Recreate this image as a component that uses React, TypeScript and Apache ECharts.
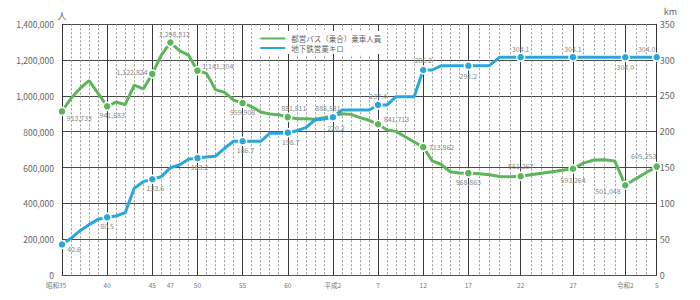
import React, { useEffect, useRef } from 'react';
import * as echarts from 'echarts';

// ---------- data ----------
const years = Array.from({ length: 64 }, (_, i) => 1960 + i); // 昭和35 (1960) … 令和5 (2023)

// 都営バス（乗合）乗車人員 (人/日)
const busRiders = [
  913733, 987000, 1042000, 1085000, 1014000, 941683, 966000, 951000, 1061000, 1039000,
  1122824, 1228000, 1298312, 1253000, 1228000, 1141304, 1126000, 1035000, 1020000, 977000,
  959908, 940000, 910000, 899000, 895000, 881811, 873000, 873000, 870000, 878000,
  888581, 900000, 897000, 879000, 864000, 841713, 810000, 802000, 772000, 743000,
  713862, 637000, 617000, 576000, 570000, 568863, 565000, 560000, 550000, 548000,
  551267, 560000, 568000, 577000, 585000, 593264, 625000, 642000, 643000, 636000,
  501048, 537000, 572000, 605253,
];

// 地下鉄営業キロ (km)
const subwayKm = [
  42.6, 51.2, 61.9, 70.3, 77.7, 80.5, 82.4, 87.0, 121.0, 130.3,
  133.6, 137.3, 149.8, 153.6, 161.5, 163.2, 164.7, 165.9, 176.9, 186.7,
  186.7, 186.7, 186.7, 197.8, 197.8, 198.7, 201.5, 205.7, 216.4, 217.8,
  220.2, 230.4, 230.4, 230.4, 230.4, 237.4, 237.4, 249.0, 249.0, 249.0,
  286.2, 286.2, 292.2, 292.2, 292.2, 292.2, 292.2, 292.2, 304.1, 304.1,
  304.1, 304.1, 304.1, 304.1, 304.1, 304.1, 304.1, 304.1, 304.1, 304.0,
  304.0, 304.0, 304.0, 304.0,
];

const tickYears = [1960, 1965, 1970, 1972, 1975, 1980, 1985, 1990, 1995, 2000, 2005, 2010, 2015, 2020, 2023];
const tickLabels = ['昭和35', '40', '45', '47', '50', '55', '60', '平成2', '7', '12', '17', '22', '27', '令和2', '5'];

const busLabeledYears = [1960, 1965, 1970, 1972, 1975, 1980, 1985, 1990, 1995, 2000, 2005, 2010, 2015, 2020, 2023];
const subwayLabeledYears = [1960, 1965, 1970, 1975, 1980, 1985, 1990, 1995, 2000, 2005, 2010, 2015, 2020, 2023];

const BUS = '都営バス（乗合）乗車人員';
const SUBWAY = '地下鉄営業キロ';
const SPLIT_YEAR = 2005; // the year scale widens after this year in the original

// ---------- styles ----------
const GREEN = '#5db55a';
const BLUE = '#2aa6de';
const FONT = '"Noto Sans CJK JP", "Noto Sans", sans-serif';

const busLabelPos: Record<number, any> = {
  1960: { position: 'right', distance: 0, offset: [0, 7] },
  1965: { position: 'bottom', distance: 0, offset: [5, 0] },
  1970: { position: 'left', distance: 0, offset: [0, -2] },
  1972: { position: 'top', distance: 0, offset: [4, 0] },
  1975: { position: 'right', distance: 0, offset: [0, -5] },
  1980: { position: 'bottom', distance: 1 },
  1985: { position: 'top', distance: 0.5, offset: [6, 0] },
  1990: { position: 'top', distance: 0, offset: [-5, 0] },
  1995: { position: 'right', distance: 1, offset: [0, -5] },
  2000: { position: 'right', distance: 1 },
  2005: { position: 'bottom', distance: 1 },
  2010: { position: 'top', distance: 2 },
  2015: { position: 'bottom', distance: 2.5 },
  2020: { position: 'left', distance: 0, offset: [0, 6] },
  2023: { position: 'top', distance: 2, offset: [-13, 0] },
};

const subwayLabelPos: Record<number, any> = {
  1960: { position: 'right', distance: 0.5, offset: [0, 5] },
  1965: { position: 'bottom', distance: 0 },
  1970: { position: 'bottom', distance: 0, offset: [3, 0] },
  1975: { position: 'bottom', distance: 0.5, offset: [2, 0] },
  1980: { position: 'bottom', distance: 0, offset: [3, 0] },
  1985: { position: 'bottom', distance: 1, offset: [3, 0] },
  1990: { position: 'bottom', distance: 2, offset: [3, 0] },
  1995: { position: 'top', distance: 1 },
  2000: { position: 'top', distance: 2 },
  2005: { position: 'bottom', distance: 2 },
  2010: { position: 'top', distance: 0 },
  2015: { position: 'top', distance: 0 },
  2020: { position: 'bottom', distance: 1.5 },
  2023: { position: 'top', distance: 0, offset: [-10, 0] },
};

function makeData(
  values: number[],
  labeled: number[],
  pos: Record<number, any>,
  from: number,
  to: number,
  skipYear?: number
) {
  const out: any[] = [];
  years.forEach((y, i) => {
    if (y < from || y > to) return;
    const v = values[i];
    if (labeled.includes(y) && y !== skipYear) {
      out.push({ value: [y, v], label: { show: true, ...pos[y] } });
    } else {
      out.push({ value: [y, v], symbol: 'none', label: { show: false } });
    }
  });
  return out;
}

const yearLabel = (v: number, skip?: number) => {
  if (v === skip) return '';
  const i = tickYears.indexOf(v);
  if (i < 0) return '';
  if (i === 0) return '{first|' + tickLabels[i] + '}';
  return tickLabels[i];
};

const xLabelStyle = {
  fontSize: 6.5,
  color: '#777',
  margin: 7,
  showMinLabel: true,
  showMaxLabel: true,
  rich: { first: { fontSize: 6.5, color: '#777', padding: [0, 12, 0, 0] } },
};

function lineSeries(name: string, color: string, xi: number, yi: number, data: any[], fmt: (v: number) => string) {
  return {
    type: 'line',
    name,
    xAxisIndex: xi,
    yAxisIndex: yi,
    data,
    clip: false,
    symbol: 'circle',
    symbolSize: 8,
    showSymbol: true,
    showAllSymbol: true,
    lineStyle: { color, width: 3 },
    itemStyle: { color, borderColor: '#fff', borderWidth: 1.5 },
    label: {
      fontSize: 7,
      color: '#888',
      fontFamily: FONT,
      textBorderWidth: 0,
      textBorderColor: 'transparent',
      formatter: (p: any) => fmt(p.value[1]),
    },
    emphasis: { disabled: true },
  };
}

export default function App() {
  const ref = useRef<HTMLDivElement>(null);

  useEffect(() => {
    if (!ref.current) return;
    const chart = echarts.init(ref.current, undefined, { renderer: 'svg' });

    const fmtBus = (v: number) => v.toLocaleString('en-US');
    const fmtKm = (v: number) => v.toFixed(1);

    const dashedSplit = { show: true, lineStyle: { color: '#9a9a9a', type: [2, 2], width: 1 } };
    const solidSplit = { show: true, lineStyle: { color: '#3a3a3a', width: 1 } };
    const hSplit = { show: true, lineStyle: { color: '#4a4a4a', width: 1 } };

    chart.setOption({
      animation: false,
      backgroundColor: '#fff',
      textStyle: { fontFamily: FONT },
      grid: [
        { left: 62, top: 24.3, width: 406.35, height: 250.7 },
        { left: 468.35, top: 24.3, width: 188.35, height: 250.7 },
      ],
      legend: {
        orient: 'vertical',
        left: 253.3,
        top: 31,
        padding: [3.5, 4, 2, 5],
        backgroundColor: '#fff',
        itemGap: 1.5,
        itemWidth: 27,
        itemHeight: 4,
        icon: 'rect',
        selectedMode: false,
        textStyle: { fontSize: 7.5, color: '#666', lineHeight: 8, fontFamily: FONT },
        data: [
          { name: BUS, itemStyle: { color: GREEN } },
          { name: SUBWAY, itemStyle: { color: BLUE } },
        ],
      },
      xAxis: [
        {
          type: 'value', gridIndex: 0, min: 1960, max: SPLIT_YEAR, interval: 1,
          axisLine: { show: true, lineStyle: { color: '#555' } },
          axisTick: { show: false },
          axisLabel: { ...xLabelStyle, formatter: (v: number) => yearLabel(v) },
          splitLine: dashedSplit,
        },
        {
          type: 'value', gridIndex: 0, min: 1960, max: SPLIT_YEAR, interval: 5,
          axisLine: { show: false }, axisTick: { show: false }, axisLabel: { show: false },
          splitLine: solidSplit,
        },
        {
          type: 'value', gridIndex: 1, min: SPLIT_YEAR, max: 2023, interval: 1,
          axisLine: { show: true, lineStyle: { color: '#555' } },
          axisTick: { show: false },
          axisLabel: { ...xLabelStyle, formatter: (v: number) => yearLabel(v, SPLIT_YEAR) },
          splitLine: dashedSplit,
        },
        {
          type: 'value', gridIndex: 1, min: SPLIT_YEAR, max: 2023, interval: 5,
          axisLine: { show: false }, axisTick: { show: false }, axisLabel: { show: false },
          splitLine: solidSplit,
        },
      ],
      yAxis: [
        {
          type: 'value', gridIndex: 0, position: 'left', min: 0, max: 1400000, interval: 200000,
          axisLine: { show: true, lineStyle: { color: '#333' } },
          axisTick: { show: false },
          axisLabel: { fontSize: 8.5, color: '#666', margin: 8, formatter: (v: number) => v.toLocaleString('en-US') },
          splitLine: hSplit,
          name: '人', nameLocation: 'end', nameGap: 4,
          nameTextStyle: { fontSize: 9, color: '#666' },
        },
        {
          type: 'value', gridIndex: 0, position: 'right', min: 0, max: 350, interval: 50, show: false,
        },
        {
          type: 'value', gridIndex: 1, position: 'left', min: 0, max: 1400000, interval: 200000,
          axisLine: { show: false }, axisTick: { show: false }, axisLabel: { show: false },
          splitLine: hSplit,
        },
        {
          type: 'value', gridIndex: 1, position: 'right', min: 0, max: 350, interval: 50,
          axisLine: { show: true, lineStyle: { color: '#333' } },
          axisTick: { show: false },
          axisLabel: { fontSize: 9, color: '#666', margin: 3 },
          splitLine: { show: false },
          name: 'km', nameLocation: 'end', nameGap: 8,
          nameTextStyle: { fontSize: 9, color: '#666', align: 'left', padding: [0, 0, 0, 7] },
        },
      ],
      series: [
        lineSeries(BUS, GREEN, 0, 0, makeData(busRiders, busLabeledYears, busLabelPos, 1960, SPLIT_YEAR), fmtBus),
        lineSeries(BUS, GREEN, 2, 2, makeData(busRiders, busLabeledYears, busLabelPos, SPLIT_YEAR, 2023, SPLIT_YEAR), fmtBus),
        lineSeries(SUBWAY, BLUE, 0, 1, makeData(subwayKm, subwayLabeledYears, subwayLabelPos, 1960, SPLIT_YEAR), fmtKm),
        lineSeries(SUBWAY, BLUE, 2, 3, makeData(subwayKm, subwayLabeledYears, subwayLabelPos, SPLIT_YEAR, 2023, SPLIT_YEAR), fmtKm),
      ],
    });

    return () => chart.dispose();
  }, []);

  return (
    <div
      ref={ref}
      style={{ position: 'fixed', left: 0, top: 0, width: 700, height: 300, background: '#fff' }}
    />
  );
}
